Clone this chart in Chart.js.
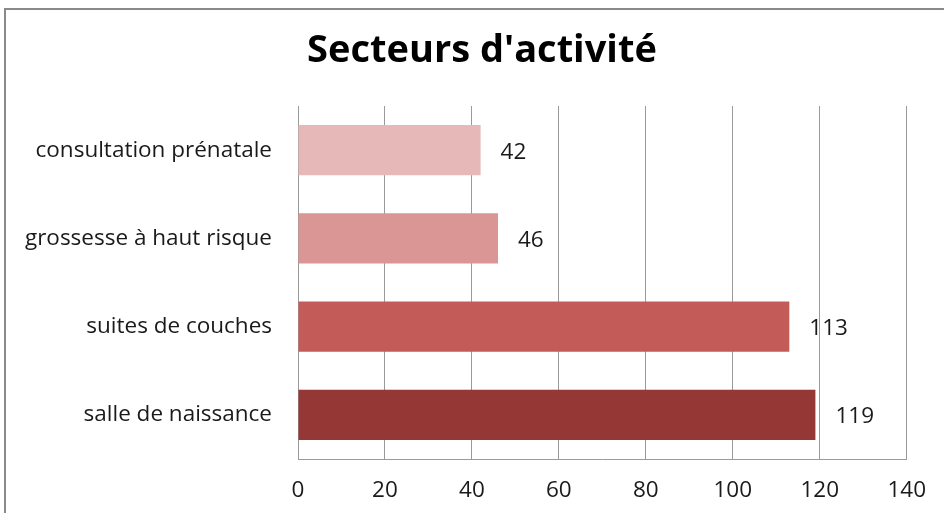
<!DOCTYPE html>
<html>
<head>
<meta charset="utf-8">
<script src="https://cdn.jsdelivr.net/npm/chart.js@4/dist/chart.umd.min.js"></script>
<style>
  html, body { margin: 0; padding: 0; background: #fff; overflow: hidden; }
  #frame { position: absolute; left: 4px; top: 8px; width: 1000px; height: 600px; border: 2px solid #8a8a8a; box-sizing: border-box; }
  #wrap { position: absolute; left: 0; top: 0; width: 944px; height: 513px; }
</style>
</head>
<body>
<div id="frame"></div>
<div id="wrap"><canvas id="c" width="944" height="513"></canvas></div>
<script>
const title = "Secteurs d'activité";
const categories = ["consultation prénatale", "grossesse à haut risque", "suites de couches", "salle de naissance"];
const values = [42, 46, 113, 119];
const barColors = ["#E6B9B8", "#D99694", "#C35B58", "#953735"];
const xTicks = [0, 20, 40, 60, 80, 100, 120, 140];

const FONT = "'Open Sans', sans-serif";

const valueLabels = {
  id: 'valueLabels',
  afterDatasetsDraw(chart) {
    const ctx = chart.ctx;
    const meta = chart.getDatasetMeta(0);
    ctx.save();
    ctx.font = "22.5px " + FONT;
    ctx.fillStyle = "#1a1a1a";
    ctx.textAlign = "left";
    ctx.textBaseline = "middle";
    meta.data.forEach((bar, i) => {
      ctx.fillText(String(chart.data.datasets[0].data[i]), bar.x + 20, bar.y + 2);
    });
    ctx.restore();
  }
};

const titlePlugin = {
  id: 'titleText',
  afterDraw(chart) {
    const ctx = chart.ctx;
    ctx.save();
    ctx.font = "bold 38px " + FONT;
    ctx.fillStyle = "#000";
    ctx.textAlign = "center";
    ctx.textBaseline = "middle";
    ctx.fillText(title, 482, 51);
    ctx.restore();
  }
};

new Chart(document.getElementById('c'), {
  type: 'bar',
  data: {
    labels: categories,
    datasets: [{
      data: values,
      backgroundColor: barColors,
      borderWidth: 0,
      categoryPercentage: 1,
      barPercentage: 0.567
    }]
  },
  options: {
    indexAxis: 'y',
    responsive: false,
    animation: false,
    devicePixelRatio: 1,
    layout: { padding: { left: 0, right: 37, top: 106, bottom: 0 } },
    plugins: {
      legend: { display: false },
      tooltip: { enabled: false },
      title: { display: false }
    },
    scales: {
      x: {
        min: 0, max: 140,
        afterBuildTicks: s => { s.ticks = xTicks.map(v => ({ value: v })); },
        afterFit: s => { s.height = 54; },
        ticks: { color: "#1a1a1a", font: { family: FONT, size: 22.5 }, padding: 18 },
        grid: { color: "#9a9a9a", lineWidth: 1, drawTicks: false },
        border: { color: "#9a9a9a", width: 1 }
      },
      y: {
        afterFit: s => { s.width = 298; },
        ticks: { color: "#1a1a1a", font: { family: FONT, size: 22.5 }, padding: 26 },
        grid: { display: false, drawTicks: false },
        border: { color: "#9a9a9a", width: 1 }
      }
    }
  },
  plugins: [valueLabels, titlePlugin]
});
</script>
</body>
</html>
